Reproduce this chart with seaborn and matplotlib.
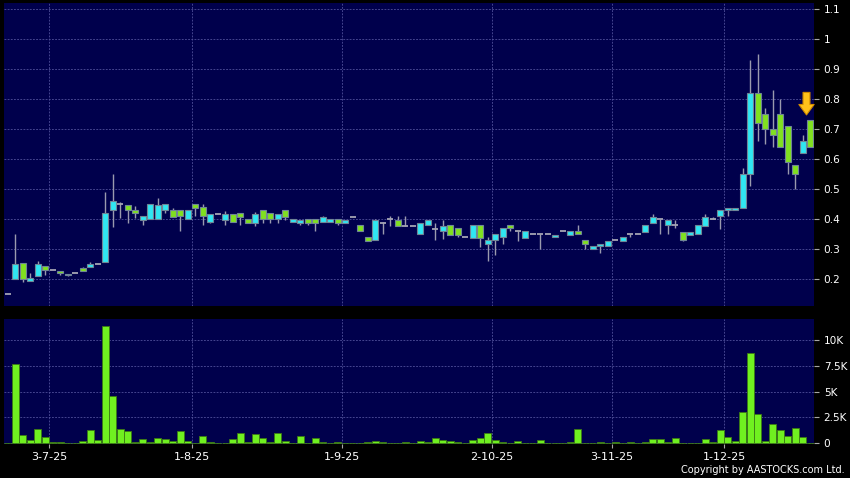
import numpy as np
import pandas as pd
import matplotlib
matplotlib.use("Agg")
import matplotlib.pyplot as plt
from matplotlib.ticker import FuncFormatter
import seaborn as sns

# --- daily candles, oldest first ---
opens = [0.15, 0.20, 0.255, 0.195, 0.21, 0.245, 0.23, 0.227, 0.213, 0.219,
         0.237, 0.24, 0.25, 0.257, 0.43, 0.45, 0.447, 0.43, 0.397, 0.40,
         0.40, 0.43, 0.43, 0.43, 0.40, 0.45, 0.44, 0.39, 0.417, 0.397,
         0.417, 0.42, 0.40, 0.387, 0.43, 0.42, 0.40, 0.43, 0.39, 0.387,
         0.40, 0.40, 0.39, 0.39, 0.40, 0.387, 0.407, 0.38, 0.34, 0.33,
         0.387, 0.40, 0.397, 0.377, 0.377, 0.35, 0.38, 0.368, 0.36, 0.38,
         0.37, 0.34, 0.337, 0.38, 0.317, 0.33, 0.34, 0.38, 0.36, 0.337,
         0.35, 0.35, 0.35, 0.34, 0.36, 0.347, 0.36, 0.33, 0.30, 0.31,
         0.31, 0.33, 0.327, 0.35, 0.35, 0.357, 0.387, 0.40, 0.38, 0.38,
         0.357, 0.347, 0.35, 0.377, 0.40, 0.41, 0.43, 0.43, 0.437, 0.55,
         0.82, 0.75, 0.70, 0.75, 0.71, 0.58, 0.62, 0.73]
highs = [0.15, 0.35, 0.255, 0.22, 0.26, 0.245, 0.23, 0.227, 0.216, 0.219,
         0.24, 0.258, 0.25, 0.49, 0.55, 0.458, 0.447, 0.445, 0.41, 0.45,
         0.47, 0.45, 0.437, 0.43, 0.43, 0.45, 0.45, 0.417, 0.417, 0.427,
         0.417, 0.42, 0.40, 0.423, 0.43, 0.42, 0.417, 0.43, 0.40, 0.397,
         0.40, 0.40, 0.41, 0.40, 0.40, 0.397, 0.407, 0.38, 0.34, 0.40,
         0.39, 0.41, 0.41, 0.41, 0.377, 0.387, 0.397, 0.387, 0.397, 0.38,
         0.37, 0.34, 0.38, 0.38, 0.34, 0.35, 0.37, 0.38, 0.36, 0.36,
         0.35, 0.35, 0.35, 0.347, 0.36, 0.36, 0.38, 0.33, 0.31, 0.317,
         0.327, 0.33, 0.34, 0.35, 0.35, 0.38, 0.417, 0.40, 0.397, 0.397,
         0.357, 0.357, 0.38, 0.417, 0.407, 0.43, 0.437, 0.437, 0.57, 0.93,
         0.95, 0.77, 0.83, 0.80, 0.71, 0.58, 0.68, 0.73]
lows = [0.15, 0.20, 0.19, 0.195, 0.21, 0.213, 0.23, 0.213, 0.21, 0.219,
        0.226, 0.24, 0.25, 0.257, 0.375, 0.405, 0.387, 0.403, 0.38, 0.40,
        0.40, 0.42, 0.407, 0.36, 0.40, 0.41, 0.38, 0.387, 0.417, 0.38,
        0.39, 0.38, 0.387, 0.377, 0.387, 0.387, 0.387, 0.397, 0.39, 0.38,
        0.38, 0.359, 0.39, 0.39, 0.38, 0.387, 0.407, 0.36, 0.327, 0.33,
        0.35, 0.377, 0.377, 0.377, 0.377, 0.35, 0.38, 0.33, 0.333, 0.347,
        0.34, 0.34, 0.337, 0.307, 0.26, 0.28, 0.317, 0.36, 0.327, 0.337,
        0.35, 0.30, 0.35, 0.34, 0.36, 0.347, 0.35, 0.30, 0.30, 0.287,
        0.31, 0.33, 0.327, 0.34, 0.35, 0.357, 0.387, 0.35, 0.35, 0.37,
        0.327, 0.347, 0.35, 0.377, 0.40, 0.367, 0.41, 0.43, 0.437, 0.51,
        0.66, 0.65, 0.64, 0.64, 0.55, 0.50, 0.62, 0.64]
closes = [0.15, 0.25, 0.20, 0.205, 0.25, 0.23, 0.23, 0.22, 0.216, 0.219,
          0.226, 0.25, 0.25, 0.42, 0.46, 0.45, 0.43, 0.42, 0.41, 0.45,
          0.447, 0.45, 0.407, 0.41, 0.43, 0.437, 0.41, 0.417, 0.417, 0.417,
          0.39, 0.407, 0.387, 0.417, 0.40, 0.40, 0.417, 0.407, 0.40, 0.397,
          0.387, 0.387, 0.407, 0.40, 0.387, 0.397, 0.407, 0.36, 0.327, 0.397,
          0.387, 0.40, 0.377, 0.377, 0.377, 0.387, 0.397, 0.368, 0.377, 0.347,
          0.347, 0.34, 0.38, 0.337, 0.33, 0.35, 0.37, 0.37, 0.36, 0.36,
          0.35, 0.35, 0.35, 0.347, 0.36, 0.36, 0.35, 0.317, 0.31, 0.317,
          0.327, 0.33, 0.34, 0.35, 0.35, 0.38, 0.407, 0.40, 0.397, 0.38,
          0.33, 0.357, 0.38, 0.407, 0.40, 0.43, 0.437, 0.437, 0.55, 0.82,
          0.72, 0.70, 0.68, 0.64, 0.59, 0.55, 0.66, 0.64]
volumes = [0, 7700, 770, 290, 1320, 580, 60, 60, 30, 0,
           160, 1250, 290, 11400, 4600, 1380, 1130, 100, 350, 100,
           510, 390, 190, 1220, 230, 30, 640, 100, 0, 20,
           420, 930, 100, 840, 510, 60, 970, 190, 30, 710,
           30, 480, 60, 0, 130, 0, 0, 0, 100, 160,
           100, 0, 0, 60, 0, 230, 60, 450, 260, 230,
           60, 0, 290, 480, 1000, 290, 130, 30, 160, 30,
           0, 260, 0, 0, 0, 60, 1320, 30, 0, 60,
           0, 60, 0, 60, 0, 60, 350, 420, 100, 450,
           30, 0, 0, 420, 130, 1250, 550, 160, 2990, 8710,
           2800, 160, 1900, 1250, 710, 1480, 610, 0]

# first trading candle of each labelled month
month_labels = ["3-7-25", "1-8-25", "1-9-25", "2-10-25", "3-11-25", "1-12-25"]
month_start = [6, 25, 45, 65, 81, 96]

price_ticks = [0.2, 0.3, 0.4, 0.5, 0.6, 0.7, 0.8, 0.9, 1.0, 1.1]
vol_ticks = [0, 2500, 5000, 7500, 10000]
vol_tick_labels = ["0", "2.5K", "5K", "7.5K", "10K"]

df = pd.DataFrame({"open": opens, "high": highs, "low": lows,
                   "close": closes, "volume": volumes})
df["idx"] = np.arange(len(df))

BG = "#00004c"
GRID = "#50509a"
UP = "#30e6f2"
DOWN = "#80e020"
WICK = "#9a9aae"
VOLC = "#70f020"

sns.set_theme(style="dark")
plt.rcParams["font.family"] = ["DejaVu Sans"]

W, H = 850, 478
fig = plt.figure(figsize=(W / 100, H / 100), dpi=100, facecolor="black")
ax_p = fig.add_axes([4 / W, 1 - 306 / H, 810 / W, 303 / H])
ax_v = fig.add_axes([4 / W, 1 - 444 / H, 810 / W, 125 / H])

# --- price panel ---
ax_p.vlines(df["idx"], df["low"], df["high"], color=WICK, lw=1, zorder=2)
flat = df[np.isclose(df["open"], df["close"])]
body = df[~np.isclose(df["open"], df["close"])]
colors = [UP if c > o else DOWN for o, c in zip(body["open"], body["close"])]
ax_p.bar(body["idx"], (body["close"] - body["open"]).abs(),
         bottom=np.minimum(body["open"], body["close"]), width=0.8,
         color=colors, edgecolor="#6f8596", linewidth=0.8, zorder=3)
ax_p.hlines(flat["open"], flat["idx"] - 0.42, flat["idx"] + 0.42,
            color="#a4a4b4", lw=1.3, zorder=3)

# marker arrow over the latest candle
last = df.iloc[-1]
ax_p.annotate("", xy=(last["idx"] - 0.5, last["high"] + 0.017),
              xytext=(last["idx"] - 0.5, last["high"] + 0.092),
              arrowprops=dict(arrowstyle="simple,head_length=0.75,head_width=1.1,tail_width=0.5",
                              mutation_scale=10, fc="#ffc21a", ec="#d08a00",
                              lw=0.8, shrinkA=0, shrinkB=0),
              zorder=5)

ax_p.set_ylim(0.11, 1.12)
ax_p.set_yticks(price_ticks)
ax_p.yaxis.set_major_formatter(FuncFormatter(lambda v, _: f"{v:g}"))

# --- volume panel ---
sns.barplot(data=df, x="idx", y="volume", color=VOLC, width=0.88,
            saturation=1, edgecolor="#3c7a14", linewidth=0.6,
            errorbar=None, ax=ax_v, zorder=3)
ax_v.set_ylim(-90, 12050)
ax_v.set_yticks(vol_ticks)
ax_v.set_yticklabels(vol_tick_labels)

month_pos = [m - 0.5 for m in month_start]
for ax in (ax_p, ax_v):
    ax.set_facecolor(BG)
    ax.set_xlim(-0.5, len(df) - 0.5)
    ax.set_xticks(month_pos)
    ax.yaxis.tick_right()
    ax.set_xlabel("")
    ax.set_ylabel("")
    for s in ax.spines.values():
        s.set_visible(False)
    ax.grid(True, which="major", axis="both", color=GRID, lw=0.6,
            linestyle=(0, (2.2, 1.6)), zorder=0)
    ax.set_axisbelow(True)
    ax.tick_params(axis="y", which="both", right=True, left=False,
                   length=3.6, width=0.8, pad=3.4, color="#a8a8a8",
                   labelcolor="white", labelsize=7.6)

ax_p.tick_params(axis="x", bottom=False, labelbottom=False)
ax_v.set_xticklabels(month_labels)
ax_v.tick_params(axis="x", bottom=True, length=3, width=0.8, pad=2.5,
                 color="#a8a8a8", labelcolor="white", labelsize=8)

fig.text(845 / W, 1 - 470 / H, "Copyright by AASTOCKS.com Ltd.",
         color="white", fontsize=7, ha="right", va="center")

fig.savefig("out.png", dpi=100, facecolor="black")
